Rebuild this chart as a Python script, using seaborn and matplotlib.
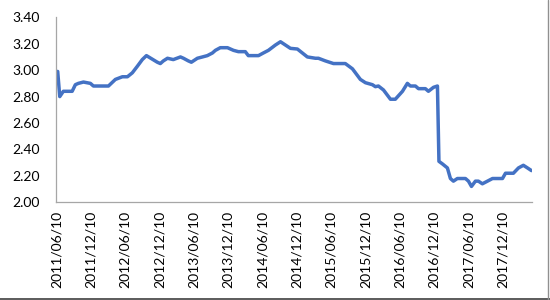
import matplotlib
matplotlib.use("Agg")
import matplotlib.pyplot as plt
from matplotlib.lines import Line2D
import pandas as pd
import seaborn as sns

dates = [
    "2011-06-10", "2011-06-17", "2011-06-28", "2011-07-17", "2011-09-02", "2011-09-19",
    "2011-10-05", "2011-11-01", "2011-12-08", "2011-12-24", "2012-03-13", "2012-04-19",
    "2012-05-26", "2012-06-22", "2012-07-18", "2012-08-14", "2012-09-09", "2012-10-01",
    "2012-11-28", "2012-12-14", "2012-12-30", "2013-01-21", "2013-02-21", "2013-03-31",
    "2013-04-16", "2013-05-12", "2013-05-28", "2013-06-29", "2013-07-26", "2013-08-21",
    "2013-09-17", "2013-10-03", "2013-10-29", "2013-12-06", "2014-01-07", "2014-02-02",
    "2014-03-11", "2014-03-27", "2014-05-20", "2014-06-15", "2014-07-12", "2014-08-18",
    "2014-09-14", "2014-11-06", "2014-12-13", "2015-02-04", "2015-03-19", "2015-04-04",
    "2015-05-11", "2015-06-23", "2015-08-25", "2015-10-02", "2015-11-13", "2015-12-10",
    "2016-01-16", "2016-02-01", "2016-02-17", "2016-03-15", "2016-04-21", "2016-05-17",
    "2016-06-24", "2016-07-20", "2016-08-05", "2016-09-01", "2016-09-17", "2016-10-24",
    "2016-11-09", "2016-12-06", "2016-12-27", "2017-01-04", "2017-01-23", "2017-02-18",
    "2017-03-06", "2017-03-22", "2017-04-12", "2017-05-25", "2017-06-10", "2017-06-26",
    "2017-07-17", "2017-08-02", "2017-08-23", "2017-09-19", "2017-10-16", "2017-12-08",
    "2017-12-24", "2018-02-04", "2018-03-03", "2018-03-29", "2018-04-20", "2018-05-11",
]
values = [
    2.99, 2.99, 2.80, 2.84, 2.84, 2.89,
    2.90, 2.91, 2.90, 2.88, 2.88, 2.93,
    2.95, 2.95, 2.98, 3.03, 3.08, 3.11,
    3.06, 3.05, 3.07, 3.09, 3.08, 3.10,
    3.09, 3.07, 3.06, 3.09, 3.10, 3.11,
    3.13, 3.15, 3.17, 3.17, 3.15, 3.14,
    3.14, 3.11, 3.11, 3.13, 3.15, 3.19,
    3.215, 3.165, 3.16, 3.10, 3.09, 3.09,
    3.07, 3.05, 3.05, 3.01, 2.93, 2.905,
    2.89, 2.875, 2.88, 2.85, 2.78, 2.78,
    2.84, 2.90, 2.88, 2.88, 2.86, 2.86,
    2.84, 2.87, 2.88, 2.31, 2.29, 2.26,
    2.18, 2.16, 2.18, 2.18, 2.16, 2.12,
    2.16, 2.16, 2.14, 2.16, 2.18, 2.18,
    2.22, 2.22, 2.26, 2.28, 2.26, 2.24,
]
tick_labels = [
    "2011/06/10", "2011/12/10", "2012/06/10", "2012/12/10", "2013/06/10", "2013/12/10",
    "2014/06/10", "2014/12/10", "2015/06/10", "2015/12/10", "2016/06/10", "2016/12/10",
    "2017/06/10", "2017/12/10",
]
y_ticks = [2.00, 2.20, 2.40, 2.60, 2.80, 3.00, 3.20, 3.40]

sns.set_style("white")
plt.rcParams["font.family"] = ["Lato", "DejaVu Sans"]

df = pd.DataFrame({"date": pd.to_datetime(dates), "value": values})

fig = plt.figure(figsize=(5.5, 3.0), dpi=100)
ax = fig.add_axes([56 / 550, 1 - 202.3 / 300, (532 - 56) / 550, (202.3 - 17.3) / 300])

sns.lineplot(data=df, x="date", y="value", ax=ax, color="#4472C4", linewidth=2.5)

ax.set_ylim(2.0, 3.4)
ax.set_yticks(y_ticks)
ax.set_yticklabels([f"{v:.2f}" for v in y_ticks], fontsize=10)

tick_dates = pd.to_datetime([t.replace("/", "-") for t in tick_labels])
ax.set_xticks(tick_dates)
ax.set_xticklabels(tick_labels, rotation=90, fontsize=10)
ax.set_xlim(pd.Timestamp("2011-06-08"), pd.Timestamp("2018-05-14"))

ax.set_xlabel("")
ax.set_ylabel("")
for s in ["top", "right"]:
    ax.spines[s].set_visible(False)
for s in ["left", "bottom"]:
    ax.spines[s].set_color("#A6A6A6")
    ax.spines[s].set_linewidth(0.9)
ax.tick_params(axis="both", which="major", direction="out", length=4, width=0.9,
               color="#A6A6A6", labelcolor="#000000")
ax.tick_params(axis="x", pad=2)
ax.tick_params(axis="y", pad=8)
ax.grid(False)

fig.add_artist(Line2D([0, 1], [0.004, 0.004], transform=fig.transFigure, color="#404040", lw=1.2))
fig.add_artist(Line2D([0.996, 0.996], [0, 1], transform=fig.transFigure, color="#909090", lw=1.0))

fig.savefig("out.png", dpi=100)
